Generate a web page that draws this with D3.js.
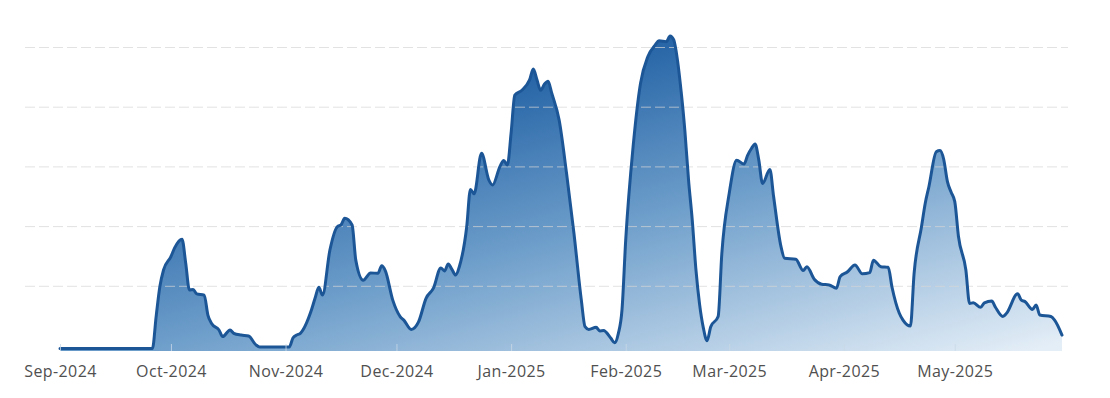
<!DOCTYPE html>
<html>
<head>
<meta charset="utf-8">
<script src="https://cdn.jsdelivr.net/npm/d3@7"></script>
<style>
  body { margin: 0; background: #fff; }
  svg { display: block; }
</style>
</head>
<body>
<svg width="1110" height="398"></svg>
<script>
// dates of the readings (irregular)
var dates = [
  "2024-09-01","2024-09-26","2024-09-27","2024-09-28","2024-09-29","2024-10-01","2024-10-02","2024-10-04",
  "2024-10-05","2024-10-06","2024-10-07","2024-10-08","2024-10-10","2024-10-11","2024-10-12","2024-10-14",
  "2024-10-15","2024-10-17","2024-10-18","2024-10-20","2024-10-22","2024-10-24","2024-10-25","2024-11-02",
  "2024-11-03","2024-11-04","2024-11-05","2024-11-08","2024-11-09","2024-11-10","2024-11-11","2024-11-13",
  "2024-11-15","2024-11-16","2024-11-17","2024-11-19","2024-11-20","2024-11-22","2024-11-24","2024-11-26",
  "2024-11-27","2024-11-28","2024-11-30","2024-12-02","2024-12-03","2024-12-05","2024-12-07","2024-12-09",
  "2024-12-11","2024-12-13","2024-12-14","2024-12-15","2024-12-16","2024-12-17","2024-12-18","2024-12-20",
  "2024-12-21","2024-12-22","2024-12-24","2024-12-26","2024-12-27","2024-12-29","2024-12-30","2024-12-31",
  "2025-01-01","2025-01-02","2025-01-04","2025-01-06","2025-01-07","2025-01-08","2025-01-09","2025-01-10",
  "2025-01-11","2025-01-12","2025-01-14","2025-01-16","2025-01-18","2025-01-20","2025-01-21","2025-01-22",
  "2025-01-24","2025-01-25","2025-01-26","2025-01-28","2025-01-29","2025-01-30","2025-01-31","2025-02-01",
  "2025-02-03","2025-02-05","2025-02-07","2025-02-09","2025-02-10","2025-02-12","2025-02-13","2025-02-14",
  "2025-02-15","2025-02-16","2025-02-17","2025-02-18","2025-02-19","2025-02-20","2025-02-21","2025-02-22",
  "2025-02-23","2025-02-24","2025-02-26","2025-02-27","2025-03-01","2025-03-03","2025-03-05","2025-03-06",
  "2025-03-07","2025-03-08","2025-03-09","2025-03-10","2025-03-12","2025-03-13","2025-03-15","2025-03-16",
  "2025-03-19","2025-03-21","2025-03-22","2025-03-24","2025-03-26","2025-03-28","2025-03-30","2025-03-31",
  "2025-04-02","2025-04-04","2025-04-06","2025-04-08","2025-04-09","2025-04-11","2025-04-13","2025-04-14",
  "2025-04-16","2025-04-17","2025-04-19","2025-04-20","2025-04-22","2025-04-23","2025-04-24","2025-04-26",
  "2025-04-27","2025-04-28","2025-04-29","2025-04-30","2025-05-01","2025-05-02","2025-05-04","2025-05-05",
  "2025-05-06","2025-05-08","2025-05-09","2025-05-11","2025-05-12","2025-05-14","2025-05-15","2025-05-18",
  "2025-05-19","2025-05-20","2025-05-22","2025-05-23","2025-05-24","2025-05-27","2025-05-28","2025-05-30"
];

var values = [
  0, 0, 10.7, 20.7, 26.3, 30.8, 33.7, 36.6,
  28.6, 19.6, 19.8, 18.3, 17.9, 11.2, 8.4, 6.2,
  4.0, 6.2, 5.1, 4.5, 4.2, 1.2, 0.5, 0.5,
  3.5, 4.5, 5.1, 12.9, 16.9, 20.5, 17.9, 33,
  40.8, 41.4, 43.6, 41.4, 29.6, 22.9, 25.3, 25.2,
  27.7, 26, 16.2, 10.7, 9.5, 6.4, 9, 16.8,
  20.2, 27, 26, 28.3, 26.5, 24.6, 27.4, 40.8,
  53.3, 51.8, 65.4, 56.4, 54.8, 61, 63, 61.5,
  72.1, 84.9, 86.6, 90, 93.6, 90, 86.5, 88.5,
  89.5, 85.5, 76.5, 58.7, 38.6, 16.2, 7.3, 6.4,
  7.1, 5.9, 6, 3.4, 1.9, 5, 13, 36.3,
  67.6, 88.8, 97.8, 101.7, 103.1, 102.8, 104.7, 103.4,
  96.6, 86, 73, 56.4, 43, 26.3, 14.6, 6.9,
  2.6, 7.3, 10.7, 31.9, 52, 63.1, 61.8, 64.8,
  67, 68.5, 63.1, 55.3, 60, 50.9, 34.1, 30.2,
  29.9, 26.1, 27.4, 23.2, 21.5, 21.3, 20.2, 24.1,
  25.7, 28, 25, 25.4, 29.6, 27.4, 27.2, 20.7,
  11.8, 9.5, 7.5, 25.2, 40.8, 48.6, 54.2, 65.9,
  66.3, 63.4, 56, 52.4, 49.2, 37.5, 26.3, 15.1,
  15.3, 13.8, 15.3, 15.9, 13.8, 10.7, 11.8, 18.3,
  16.2, 15.7, 13.1, 14.6, 11.2, 10.7, 9.5, 4.5
];

var monthTicks = ["2024-09-01","2024-10-01","2024-11-01","2024-12-01","2025-01-01",
                  "2025-02-01","2025-03-01","2025-04-01","2025-05-01"];
var gridValues = [21, 41, 61, 81, 101];

var parseDate = d3.timeParse("%Y-%m-%d");
var data = dates.map(function(d, i) { return { date: parseDate(d), value: values[i] }; });

var svg = d3.select("svg");

var x = d3.scaleTime()
    .domain([parseDate("2024-09-01"), parseDate("2025-05-30")])
    .range([60, 1062]);

var y = d3.scaleLinear()
    .domain([0, 101])
    .range([348.5, 47]);

// gradient for the area
var defs = svg.append("defs");
var grad = defs.append("linearGradient")
    .attr("id", "areaFill")
    .attr("gradientUnits", "userSpaceOnUse")
    .attr("x1", 655).attr("y1", 25)
    .attr("x2", 760).attr("y2", 423);
grad.append("stop").attr("offset", "0").attr("stop-color", "#1f5fa3");
grad.append("stop").attr("offset", "0.45").attr("stop-color", "#6f9fcb");
grad.append("stop").attr("offset", "1").attr("stop-color", "#e4eef7");

var area = d3.area()
    .x(function(d) { return x(d.date); })
    .y0(351)
    .y1(function(d) { return y(d.value); })
    .curve(d3.curveMonotoneX);

var line = d3.line()
    .x(function(d) { return x(d.date); })
    .y(function(d) { return y(d.value); })
    .curve(d3.curveMonotoneX);

svg.append("path")
    .datum(data)
    .attr("d", area)
    .attr("fill", "url(#areaFill)");

// dashed grid lines
var grid = svg.append("g")
    .attr("transform", "translate(25,0)")
    .call(d3.axisLeft(y).tickValues(gridValues).tickSize(-1043).tickFormat(""));
grid.select(".domain").remove();
grid.selectAll("line")
    .attr("stroke", "#d6d6d6")
    .attr("stroke-opacity", 0.7)
    .attr("stroke-dasharray", "10,4");

svg.append("path")
    .datum(data)
    .attr("d", line)
    .attr("fill", "none")
    .attr("stroke", "#1c5697")
    .attr("stroke-width", 3)
    .attr("stroke-linejoin", "round")
    .attr("stroke-linecap", "round");

var xAxis = svg.append("g")
    .attr("transform", "translate(0,344)")
    .call(d3.axisBottom(x)
        .tickValues(monthTicks.map(parseDate))
        .tickFormat(d3.timeFormat("%b-%Y"))
        .tickSize(7)
        .tickPadding(15));
xAxis.select(".domain").remove();
xAxis.selectAll("line").attr("stroke", "#c9d8e6").attr("stroke-opacity", 0.8);
xAxis.selectAll("text")
    .attr("fill", "#505050")
    .style("font-family", "'Open Sans', sans-serif")
    .style("font-size", "16px")
    .style("letter-spacing", "0.4px");
</script>
</body>
</html>
